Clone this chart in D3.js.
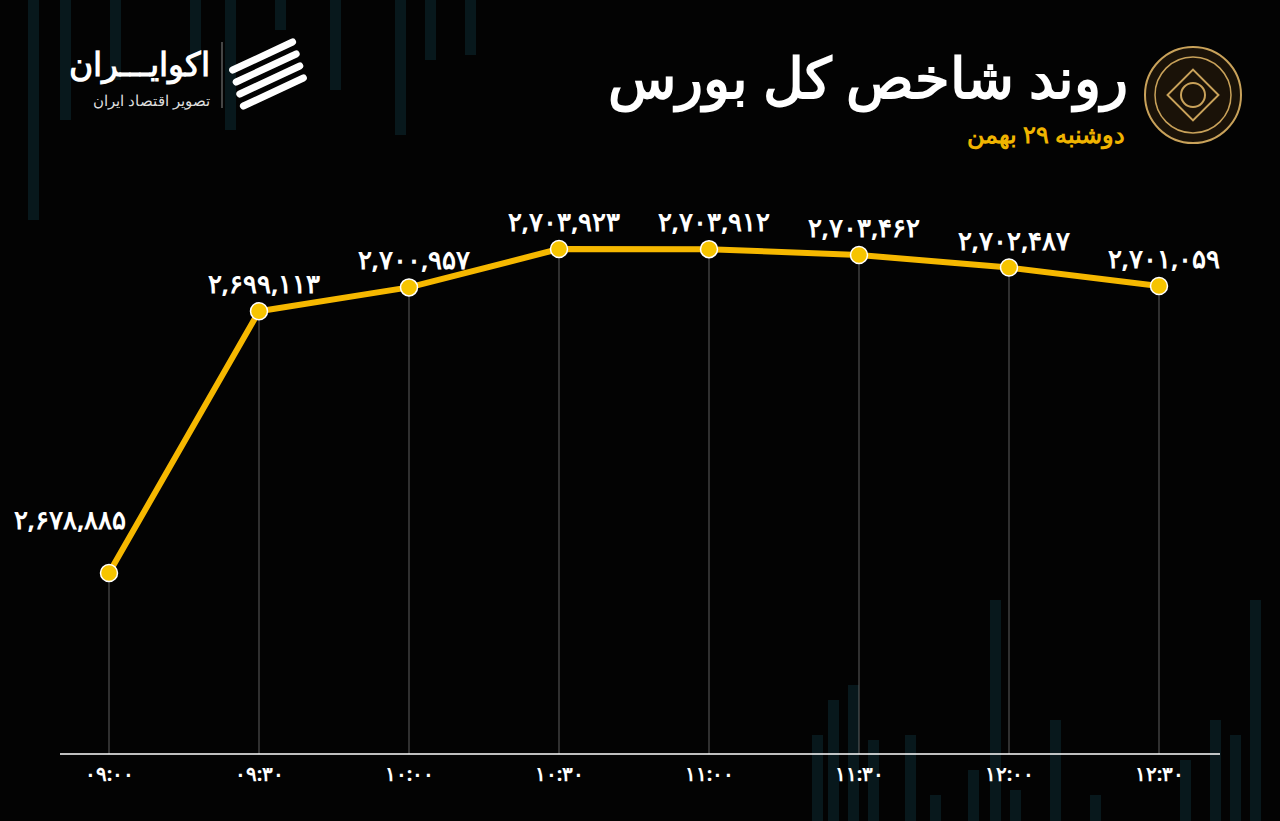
<!DOCTYPE html>
<html><head><meta charset="utf-8">
<script src="https://cdn.jsdelivr.net/npm/d3@7"></script>
<style>body{margin:0;background:#030303;overflow:hidden}</style>
</head><body>
<div id="chart"></div>
<script>
const times = ["۰۹:۰۰","۰۹:۳۰","۱۰:۰۰","۱۰:۳۰","۱۱:۰۰","۱۱:۳۰","۱۲:۰۰","۱۲:۳۰"];
const values = [2678885, 2699113, 2700957, 2703923, 2703912, 2703462, 2702487, 2701059];
// faint decorative candles in the background
const bgBars = [[28,0,220],[60,0,120],[110,0,80],[190,0,60],[225,0,130],[275,0,30],[330,0,90],[395,0,135],[425,0,60],[465,0,55],
  [812,735,821],[828,700,821],[848,685,821],[868,740,821],[905,735,821],[930,795,821],[968,770,821],[990,600,821],[1010,790,821],[1050,720,821],[1090,795,821],[1180,760,821],[1210,720,821],[1230,735,821],[1250,600,821]];

const W = 1280, H = 821;
const svg = d3.select("#chart").append("svg").attr("width", W).attr("height", H);
svg.append("rect").attr("width", W).attr("height", H).attr("fill", "#030303");

svg.append("g").selectAll("rect").data(bgBars).enter().append("rect")
  .attr("x", d => d[0]).attr("y", d => d[1]).attr("width", 11).attr("height", d => d[2] - d[1])
  .attr("fill", "#0c2228").attr("opacity", 0.7);

const x = d3.scalePoint().domain(times).range([109, 1159]);
const y = d3.scaleLinear().domain([2678885, 2703923]).range([573, 249]);
const faNum = d => d3.format(",")(d).replace(/\d/g, c => "۰۱۲۳۴۵۶۷۸۹"[c]);

// vertical guides
svg.append("g").selectAll("line").data(values).enter().append("line")
  .attr("x1", (d, i) => x(times[i])).attr("x2", (d, i) => x(times[i]))
  .attr("y1", d => y(d)).attr("y2", 754)
  .attr("stroke", "#777").attr("stroke-width", 0.8);

// baseline + ticks
const axis = svg.append("g").attr("transform", "translate(0,754)")
  .call(d3.axisBottom(x).tickSize(0).tickPadding(13));
axis.select(".domain").remove();
axis.append("line").attr("x1", 60).attr("x2", 1220).attr("stroke", "#fff").attr("stroke-width", 1.5);
axis.selectAll("text").attr("fill", "#fff").style("font-family", "'Noto Sans', sans-serif")
  .style("font-size", "20px").style("font-weight", "bold");

const line = d3.line().x((d, i) => x(times[i])).y(d => y(d));
svg.append("path").datum(values).attr("d", line)
  .attr("fill", "none").attr("stroke", "#f6b800").attr("stroke-width", 6).attr("stroke-linejoin", "round");

svg.append("g").selectAll("circle").data(values).enter().append("circle")
  .attr("cx", (d, i) => x(times[i])).attr("cy", d => y(d)).attr("r", 8.5)
  .attr("fill", "#f6c400").attr("stroke", "#fff").attr("stroke-width", 1.5);

svg.append("g").selectAll("text").data(values).enter().append("text")
  .attr("x", (d, i) => i === 0 ? 70 : x(times[i]) + 5)
  .attr("y", (d, i) => i === 0 ? y(d) - 44 : y(d) - 18)
  .attr("text-anchor", "middle").attr("fill", "#fff")
  .style("font-family", "'Noto Sans', sans-serif").style("font-size", "26px").style("font-weight", "bold")
  .text(faNum);

// title block
svg.append("text").attr("x", 1128).attr("y", 98).attr("text-anchor", "end").attr("fill", "#fff")
  .style("font-family", "'Noto Sans', sans-serif").style("font-size", "56px").style("font-weight", "bold")
  .text("روند شاخص کل بورس");
svg.append("text").attr("x", 1125).attr("y", 143).attr("text-anchor", "end").attr("fill", "#f0b400")
  .style("font-family", "'Noto Sans', sans-serif").style("font-size", "24px").style("font-weight", "bold")
  .text("دوشنبه ۲۹ بهمن");
const logo = svg.append("g").attr("transform", "translate(1193,95)");
logo.append("circle").attr("r", 48).attr("fill", "#1a1208").attr("stroke", "#c9a25a").attr("stroke-width", 2);
logo.append("circle").attr("r", 38).attr("fill", "none").attr("stroke", "#c9a25a").attr("stroke-width", 1.5);
logo.append("rect").attr("x", -18).attr("y", -18).attr("width", 36).attr("height", 36)
  .attr("transform", "rotate(45)").attr("fill", "none").attr("stroke", "#c9a25a").attr("stroke-width", 2);
logo.append("circle").attr("r", 12).attr("fill", "none").attr("stroke", "#c9a25a").attr("stroke-width", 2);

// brand block
svg.append("text").attr("x", 210).attr("y", 76).attr("text-anchor", "end").attr("fill", "#fff")
  .style("font-family", "'Noto Sans', sans-serif").style("font-size", "33px").style("font-weight", "bold")
  .text("اکوایـــران");
svg.append("text").attr("x", 210).attr("y", 106).attr("text-anchor", "end").attr("fill", "#ddd")
  .style("font-family", "'Noto Sans', sans-serif").style("font-size", "15px")
  .text("تصویر اقتصاد ایران");
svg.append("line").attr("x1", 222).attr("x2", 222).attr("y1", 42).attr("y2", 108).attr("stroke", "#888");
const ic = svg.append("g").attr("transform", "translate(268,74)");
[-18, -6, 6, 18].forEach(o => ic.append("line").attr("x1", -30 + o * 0.3).attr("y1", o + 14)
  .attr("x2", 30 + o * 0.3).attr("y2", o - 14).attr("stroke", "#fff").attr("stroke-width", 7).attr("stroke-linecap", "round"));
</script>
</body></html>
